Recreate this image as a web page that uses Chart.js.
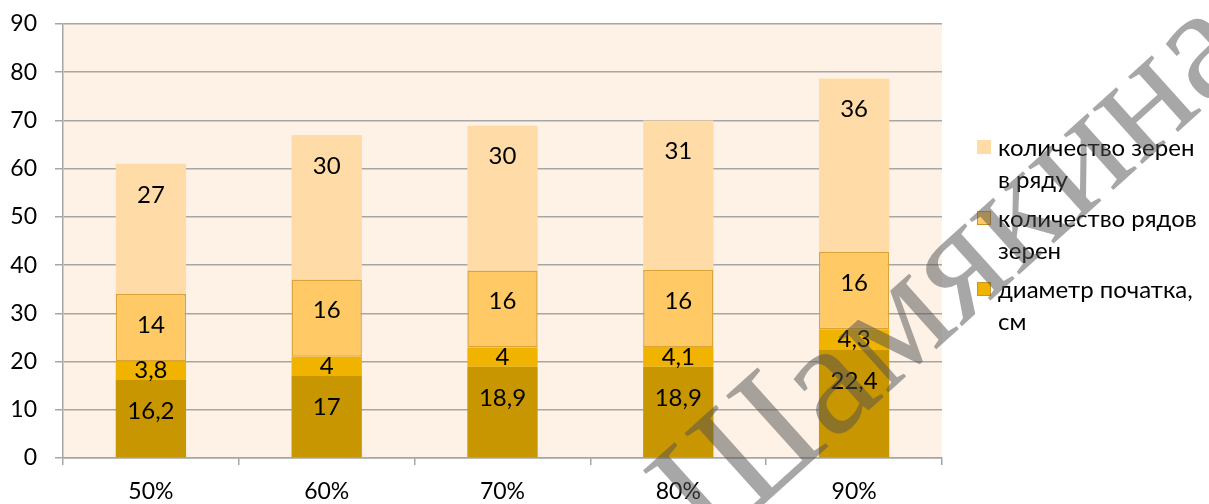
<!DOCTYPE html>
<html>
<head>
<meta charset="utf-8">
<script src="https://cdn.jsdelivr.net/npm/chart.js@4"></script>
<style>
  html, body { margin: 0; padding: 0; background: #fff; }
  #wrap { position: relative; width: 1209px; height: 504px; overflow: hidden; }
  #legend { position: absolute; left: 977px; top: 131px; font: 24px Lato, sans-serif; color: #000; }
  .item { position: relative; padding-left: 21px; width: 205px; line-height: 32px; margin-bottom: 7px; }
  .box { position: absolute; left: 0; top: 9px; width: 14px; height: 14px; box-sizing: border-box; }
  #mark { position: absolute; left: 948px; top: 266px; transform: rotate(-42deg); pointer-events: none; }
  #mark span { position: absolute; transform: translate(-50%, -50%); white-space: nowrap;
    font: 162px "Liberation Serif", serif; color: rgba(80, 80, 80, 0.5); }
</style>
</head>
<body>
<div id="wrap">
  <canvas id="myChart" width="1209" height="504"></canvas>
  <div id="legend"></div>
  <div id="mark"><span>Шамякина</span></div>
</div>
<script>
const labels = ['50%', '60%', '70%', '80%', '90%'];
const cobLength = [16.2, 17, 18.9, 18.9, 22.4];
const cobDiameter = [3.8, 4, 4, 4.1, 4.3];
const rowCount = [14, 16, 16, 16, 16];
const grainsPerRow = [27, 30, 30, 31, 36];
const yTicks = [0, 10, 20, 30, 40, 50, 60, 70, 80, 90];

const colors = ['#c89600', '#f0b400', '#ffc966', '#ffdba8'];
const names = ['длина початка, см', 'диаметр початка, см', 'количество рядов зерен', 'количество зерен в ряду'];

// plot background
const plotBg = {
  id: 'plotBg',
  beforeDraw(chart) {
    const { ctx, chartArea: a } = chart;
    ctx.save();
    ctx.fillStyle = '#fef2e6';
    ctx.fillRect(a.left, a.top, a.right - a.left, a.bottom - a.top);
    ctx.restore();
  }
};

// value labels, excel style: centre of segment but no deeper than ~31px from its top
const valueLabels = {
  id: 'valueLabels',
  afterDatasetsDraw(chart) {
    const ctx = chart.ctx;
    ctx.save();
    ctx.font = '24px Lato, sans-serif';
    ctx.fillStyle = '#000';
    ctx.textAlign = 'center';
    ctx.textBaseline = 'middle';
    chart.data.datasets.forEach((ds, i) => {
      chart.getDatasetMeta(i).data.forEach((bar, j) => {
        const top = Math.min(bar.y, bar.base);
        const h = Math.abs(bar.base - bar.y);
        const y = top + Math.min(h / 2, 31);
        ctx.fillText(String(ds.data[j]).replace('.', ','), bar.x, y);
      });
    });
    ctx.restore();
  }
};

const ctx = document.getElementById('myChart').getContext('2d');
new Chart(ctx, {
  type: 'bar',
  data: {
    labels: labels,
    datasets: [cobLength, cobDiameter, rowCount, grainsPerRow].map((d, i) => ({
      label: names[i],
      data: d,
      backgroundColor: colors[i],
      borderColor: i === 2 ? '#dba43a' : colors[i],
      borderWidth: i === 2 ? 1.5 : 0,
      borderSkipped: false,
      barPercentage: 0.4,
      categoryPercentage: 1
    }))
  },
  options: {
    responsive: false,
    animation: false,
    layout: { padding: { top: 24, right: 267, left: 0, bottom: 0 } },
    plugins: { legend: { display: false }, tooltip: { enabled: false } },
    scales: {
      x: {
        stacked: true,
        afterFit: s => { s.height = 46; },
        grid: { offset: true, drawOnChartArea: false, tickLength: 7, color: '#a6a6a6', lineWidth: 1.5 },
        border: { color: '#a6a6a6', width: 1.5 },
        ticks: { color: '#000', font: { family: 'Lato', size: 23 }, padding: 13 }
      },
      y: {
        stacked: true,
        min: 0,
        max: 90,
        afterFit: s => { s.width = 63; s.paddingTop = 0; s.paddingBottom = 0; },
        afterBuildTicks: s => { s.ticks = yTicks.map(v => ({ value: v })); },
        grid: { color: '#a6a6a6', lineWidth: 1.5, tickLength: 8 },
        border: { color: '#a6a6a6', width: 1.5 },
        ticks: { color: '#000', font: { family: 'Lato', size: 23 }, padding: 18 }
      }
    }
  },
  plugins: [plotBg, valueLabels]
});

// legend (first series has no legend entry in the original)
const legend = document.getElementById('legend');
[3, 2, 1].forEach(i => {
  const item = document.createElement('div');
  item.className = 'item';
  const box = document.createElement('span');
  box.className = 'box';
  box.style.background = colors[i];
  if (i !== 3) box.style.border = '1px solid #c9952a';
  item.appendChild(box);
  item.appendChild(document.createTextNode(names[i]));
  legend.appendChild(item);
});
</script>
</body>
</html>
